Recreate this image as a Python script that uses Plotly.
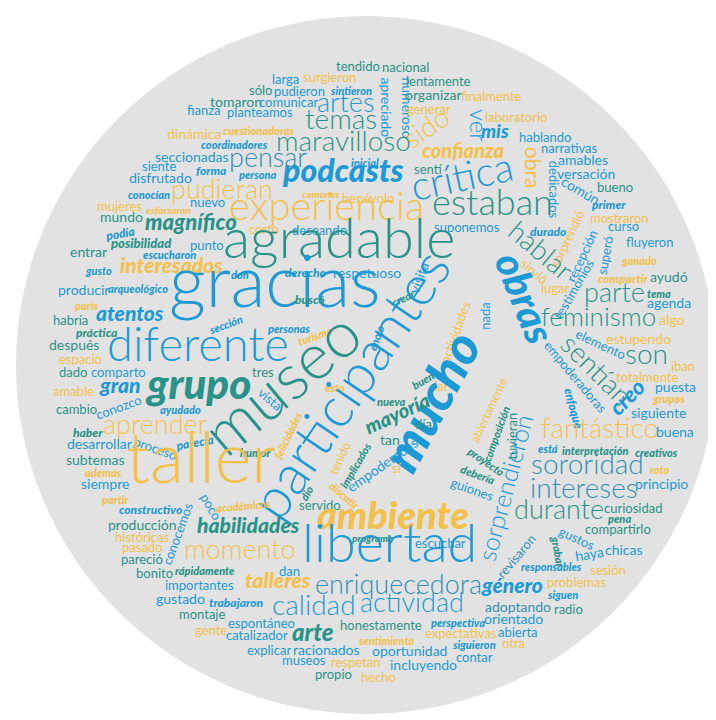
import math
import plotly.graph_objects as go

# word cloud data: word, x, y (pixel space), font size, colour class, style (s=sans, c=script), angle
words = ["tendido","nacional","larga","surgieron","apreciado","numeroso","lentamente","sólo","pudieron","sintieron",
"tomaron","fianza","planteamos","comunicar","artes","organizar","finalmente","generar","temas","ver",
"sido","maravilloso","laboratorio","mis","hablando","confianza","narrativas","obra","amables","dedicados",
"versación","común","bueno","dinámica","cuestionadoras","coordinadores","seccionadas","pensar","siente","forma",
"disfrutado","persona","inicial","podcasts","sentí","crítica","conocían","pudieran","comunes","benévolo",
"experiencia","estaban","primer","mujeres","nuevo","esforzaron","mundo","mostraron","magnífico","curso",
"suponemos","corto","deseando","durado","sorprendió","podía","agradable","posibilidad","punto","fluyeron",
"hablar","recepción","superó","entrar","escucharon","ganado","interesados","gusto","sirvió","derecho",
"respetuoso","visita","don","compartir","ayudó","testimonios","lugar","producir","arqueológico","gracias",
"parte","tema","crear","buscó","agenda","parís","obras","nada","atentos","feminismo",
"algo","habría","sección","personas","actividades","turismo","enojo","práctica","estupendo","elemento",
"después","diferente","espacio","son","sentían","empoderadoras","iban","dado","comparto","tres",
"totalmente","buen","gran","grupo","esto","dar","puesta","museo","amable","creo",
"vista","grupos","nueva","mucho","participantes","abiertamente","enfoque","cambio","conozco","ayudado",
"siguiente","mayoría","día","aprender","composición","tuvieran","fantástico","buena","felicidades","haber",
"tan","desarrollar","proceso","parecía","está","interpretación","creativos","humor","tenido","proyecto",
"subtemas","implicados","empoderadas","sí","taller","sororidad","rato","además","debería","siempre",
"principio","sorprendieron","guiones","intereses","dio","discutir","partir","poco","servido","académicos",
"constructivo","durante","curiosidad","pena","ambiente","habilidades","producción","compartirlo","conocemos","gustos",
"programa","históricas","escuchar","grabar","pasado","momento","libertad","revisaron","haya","chicas",
"pareció","responsables","sesión","rápidamente","dan","bonito","talleres","problemas","importantes","enriquecedora",
"género","siguen","gustado","trabajaron","calidad","actividad","adoptando","radio","montaje","orientado",
"espontáneo","honestamente","perspectiva","gente","abierta","arte","expectativas","catalizador","sentimiento","otra",
"siguieron","explicar","racionados","oportunidad","contar","museos","respetan","incluyendo","propio","hecho"]

word_x = [350,397,277,321,372,393,430,252,291,343,
228,196,252,280,337,425,483,421,333,463,
423,335,508,487,537,455,561,518,575,540,
578,570,607,186,250,226,184,260,151,203,
152,249,357,335,420,456,141,214,313,360,
318,484,600,111,199,160,113,611,183,615,
459,256,311,540,565,113,331,133,199,641,
527,580,603,80,161,631,163,90,522,297,
359,417,232,615,661,571,547,75,130,267,
606,651,398,302,661,78,505,483,122,590,
663,62,219,280,453,309,373,88,630,590,
66,190,72,638,582,563,675,65,110,255,
639,417,111,190,327,431,667,285,65,625,
258,660,383,437,355,486,560,68,113,172,
650,392,415,147,493,510,592,667,285,80,
382,91,145,188,540,587,648,248,337,475,
87,352,378,389,193,579,651,95,468,97,
653,505,462,576,303,333,107,198,312,236,
142,551,625,611,385,240,134,610,175,566,
364,134,432,545,134,232,381,513,583,616,
134,543,600,197,281,146,270,568,191,390,
504,554,172,228,306,404,510,560,194,505,
253,373,449,203,510,305,453,249,378,505,
466,261,318,401,466,296,347,415,325,370]

word_y = [64,65,77,75,99,100,79,88,89,88,
100,108,110,100,103,93,94,107,120,117,
127,142,115,130,135,150,146,160,158,182,
172,188,185,132,128,142,155,158,164,168,
176,172,160,172,167,181,192,190,191,196,
210,205,202,204,200,207,215,216,222,224,
225,227,228,229,234,231,245,241,243,240,
250,250,248,250,252,258,265,268,268,270,
271,272,272,276,275,284,286,288,286,292,
293,291,295,297,301,303,295,308,313,317,
318,318,322,326,326,333,332,330,337,342,
343,350,357,355,368,373,364,370,370,370,
375,377,385,388,385,384,385,388,389,395,
396,396,399,400,385,405,402,407,405,407,
411,412,422,425,428,428,429,430,430,430,
438,442,446,440,446,448,450,450,453,458,
458,460,462,466,468,465,467,470,472,482,
482,482,487,489,488,492,497,502,503,503,
507,510,506,516,518,525,523,527,528,536,
535,535,541,545,545,550,550,552,552,548,
557,564,568,568,569,571,580,580,583,585,
585,592,597,600,606,603,605,607,612,617,
621,623,620,628,630,632,631,633,638,641,
642,648,648,649,655,658,660,663,672,675]

word_size = [13,13,13,13,14,14,13,13,13,11,
14,13,13,13,27,14,13,13,28,24,
28,28,13,19,13,20,13,21,14,13,
14,14,13,14,11,11,14,27,13,12,
14,11,11,32,13,40,11,27,10,13,
40,36,12,13,13,10,14,13,22,13,
13,13,13,12,13,12,56,13,13,13,
28,13,13,14,11,11,21,11,13,12,
14,14,11,12,14,13,13,14,11,72,
27,11,11,12,14,11,40,13,21,26,
14,13,11,11,13,11,11,12,14,13,
14,47,13,28,28,13,13,13,13,13,
13,11,21,42,11,13,14,64,13,22,
13,11,11,52,56,12,12,13,13,11,
14,20,13,27,11,13,28,14,11,12,
14,14,13,12,11,11,11,11,12,11,
14,11,14,13,70,28,11,11,11,14,
14,25,13,28,11,11,11,13,13,11,
12,27,13,11,38,21,14,13,13,13,
10,13,13,11,13,27,54,13,14,14,
13,11,13,11,13,13,21,13,13,27,
21,11,14,12,28,27,14,13,13,14,
13,13,11,13,13,24,13,13,11,13,
11,13,14,14,13,13,13,14,13,13]

word_color = ["T","T","B","Y","B","B","T","T","B","B",
"T","B","B","B","B","T","Y","Y","T","B",
"Y","T","Y","B","B","Y","B","Y","B","B",
"B","B","T","Y","Y","B","B","S","B","B",
"B","B","B","B","T","B","B","Y","Y","Y",
"Y","T","B","Y","B","Y","T","Y","T","B",
"B","Y","B","B","Y","B","T","T","B","B",
"T","B","B","T","B","Y","Y","B","Y","B",
"B","B","B","Y","T","B","Y","B","B","B",
"T","T","T","T","B","Y","B","B","B","T",
"Y","T","B","B","Y","Y","B","T","Y","B",
"T","B","Y","T","T","B","Y","T","B","T",
"Y","T","B","T","Y","Y","B","T","Y","B",
"B","Y","T","B","B","Y","B","T","B","B",
"B","T","T","Y","T","T","Y","B","Y","T",
"T","B","B","B","B","T","T","T","Y","T",
"T","T","B","Y","Y","S","Y","Y","T","B",
"B","B","B","S","T","Y","Y","B","T","Y",
"B","T","T","T","Y","T","T","T","B","B",
"T","Y","B","T","Y","Y","B","S","B","B",
"T","B","Y","T","B","T","Y","Y","B","S",
"B","B","B","B","B","B","S","T","T","B",
"B","T","B","Y","B","T","Y","B","Y","Y",
"B","B","B","B","B","B","Y","B","T","Y"]

word_style = ["s","s","s","s","s","s","s","s","s","c",
"s","s","s","s","s","s","s","s","s","s",
"s","s","s","c","s","c","s","s","s","s",
"s","s","s","s","c","c","s","s","s","c",
"s","c","c","c","s","s","c","s","c","s",
"s","s","c","s","s","c","s","s","c","s",
"s","s","s","c","s","c","s","c","s","s",
"s","s","s","s","c","c","c","c","s","c",
"s","s","c","c","s","s","s","s","c","s",
"s","c","c","c","s","c","c","s","c","s",
"s","s","c","c","s","c","c","c","s","s",
"s","s","s","s","s","s","s","s","s","s",
"s","c","c","c","c","s","s","s","s","c",
"s","c","c","c","s","s","c","s","s","c",
"s","c","s","s","c","s","s","s","c","c",
"s","s","s","c","c","c","c","c","s","c",
"s","c","s","s","s","s","c","c","c","s",
"s","s","s","s","c","c","c","s","s","c",
"c","s","s","c","c","c","s","s","s","s",
"c","s","s","c","s","s","s","s","s","s",
"s","c","s","c","s","s","c","s","s","s",
"c","c","s","c","s","s","s","s","s","s",
"s","s","c","s","s","c","s","s","c","s",
"c","s","s","s","s","s","s","s","s","s"]

word_angle = [0,0,0,0,90,90,0,0,0,0,
0,0,0,0,0,0,0,0,0,90,
-35,0,0,0,0,0,0,90,0,90,
0,30,0,0,0,0,0,0,0,0,
0,0,0,0,0,-12,0,0,0,0,
0,0,0,0,0,0,0,0,0,0,
0,0,0,0,-65,-10,0,0,0,0,
40,-65,-80,0,0,0,0,0,40,0,
0,-70,0,0,0,-60,0,0,0,0,
0,0,-25,0,0,0,68,-90,0,0,
0,0,-20,0,-70,-20,-70,0,0,25,
0,0,0,0,45,50,0,0,0,0,
0,-30,0,0,0,0,0,-40,0,-45,
40,0,0,-62,-56,-65,75,0,-20,0,
0,-25,0,0,-70,-90,0,0,-65,0,
0,0,20,-10,0,0,0,0,-65,35,
0,-60,-35,0,0,0,0,0,20,0,
0,-75,20,0,-60,40,0,60,0,-5,
0,0,0,0,0,0,0,0,-70,25,
0,0,0,80,0,0,0,-50,-10,0,
0,0,0,0,0,0,0,0,0,0,
0,0,0,0,0,0,0,0,0,0,
0,0,0,0,0,0,0,0,0,0,
0,0,0,0,0,0,0,0,0,0]

palette = {"B": "#1d9ad6", "T": "#2a9389", "Y": "#f3c04c", "S": "#3290b4"}

fig = go.Figure()
fig.add_trace(go.Scatter(x=word_x, y=word_y, mode="markers", text=words,
                         marker=dict(size=1, opacity=0), hoverinfo="text", showlegend=False))

fig.add_shape(type="circle", xref="x", yref="y", x0=8, x1=708, y0=8, y1=706,
              fillcolor="#e2e2e2", line=dict(width=0), layer="below")

for w, x, y, s, c, st, a in zip(words, word_x, word_y, word_size, word_color, word_style, word_angle):
    if st == "c":
        font = dict(family="Lato, DejaVu Sans, sans-serif", size=s, color=palette[c],
                    weight=900, style="italic")
    else:
        font = dict(family="Lato, Open Sans, sans-serif", size=s, color=palette[c],
                    weight=300 if s >= 24 else 400)
    # compensate the gap between the text box centre and the glyph centre
    d = 3 + 0.25 * s
    r = math.radians(a)
    fig.add_annotation(x=x, y=y, xref="x", yref="y", text=w, showarrow=False,
                       textangle=a, font=font, xanchor="center", yanchor="middle",
                       xshift=d * math.sin(r), yshift=d * math.cos(r))

fig.update_xaxes(range=[0, 716], visible=False, fixedrange=True)
fig.update_yaxes(range=[720, 0], visible=False, fixedrange=True)
fig.update_layout(width=716, height=720, margin=dict(l=0, r=0, t=0, b=0),
                  paper_bgcolor="white", plot_bgcolor="white", showlegend=False)

fig.write_html("out.html")
